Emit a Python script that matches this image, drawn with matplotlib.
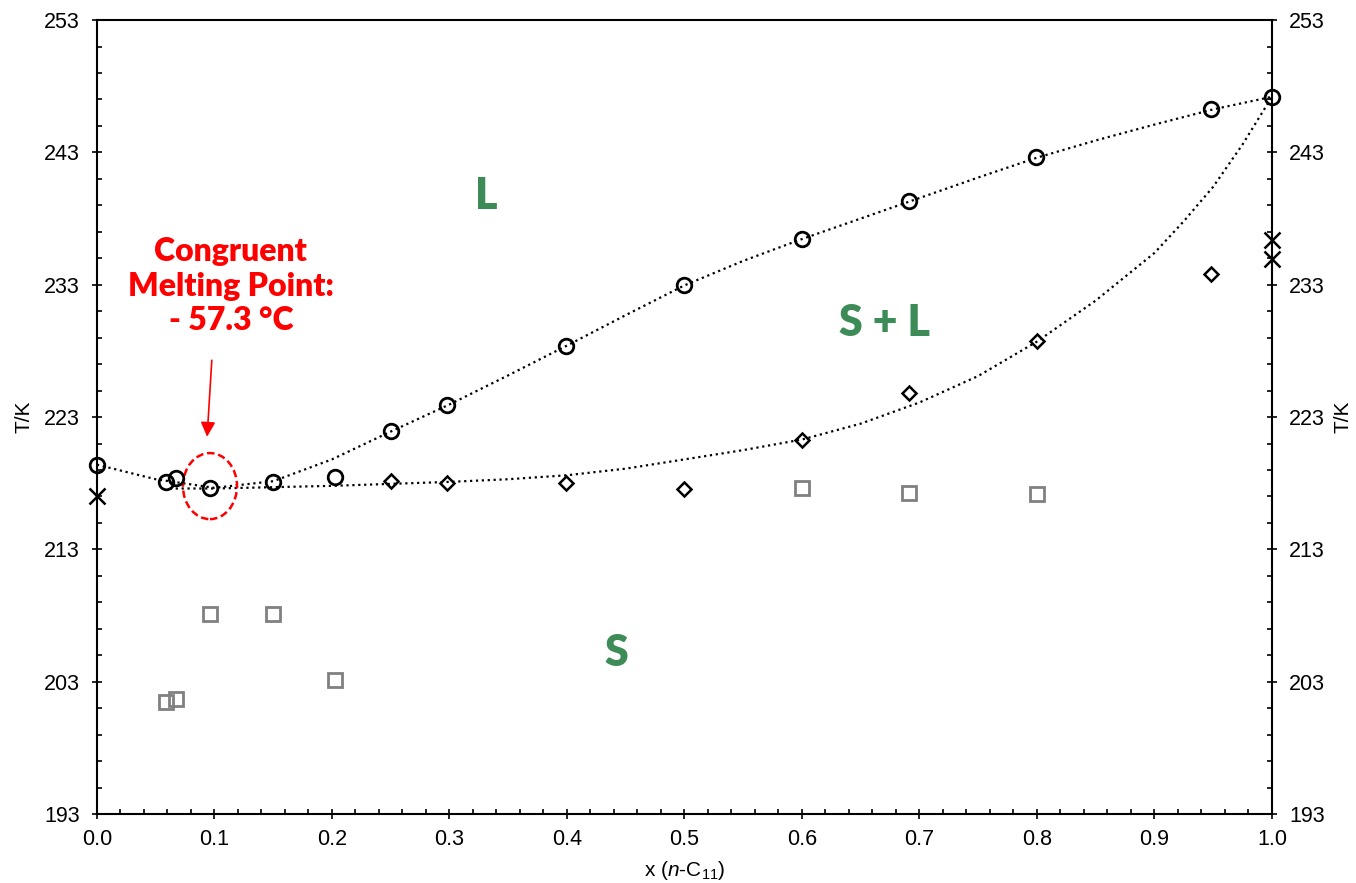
import numpy as np
import matplotlib
matplotlib.use('Agg')
import matplotlib.pyplot as plt
from matplotlib.patches import Ellipse
from matplotlib.ticker import MultipleLocator

plt.rcParams['font.family'] = ['Liberation Sans', 'DejaVu Sans']
plt.rcParams['mathtext.fontset'] = 'custom'
plt.rcParams['mathtext.rm'] = 'Liberation Sans'
plt.rcParams['mathtext.it'] = 'Liberation Sans:italic'

# liquidus points (circles)
x_liq = [0.0, 0.0587, 0.067, 0.096, 0.15, 0.2026, 0.25, 0.298, 0.399, 0.5, 0.6, 0.691, 0.799, 0.948, 1.0]
T_liq = [219.37, 218.09, 218.39, 217.63, 218.09, 218.47, 221.94, 223.91, 228.36, 232.97, 236.45, 239.32, 242.65, 246.27, 247.18]
# solidus points (diamonds)
x_sol = [0.25, 0.298, 0.399, 0.5, 0.6, 0.691, 0.8, 0.948]
T_sol = [218.16, 218.01, 218.01, 217.56, 221.26, 224.81, 228.74, 233.81]
# solid-solid transitions (grey squares)
x_ss = [0.0587, 0.067, 0.096, 0.15, 0.2026, 0.6, 0.691, 0.8]
T_ss = [201.46, 201.69, 208.11, 208.11, 203.12, 217.63, 217.26, 217.18]
# pure component values (crosses)
x_pure = [0.0, 1.0, 1.0]
T_pure = [217.03, 236.38, 234.94]

# fitted curves
x_liq_fit = [0.0, 0.05, 0.1, 0.15, 0.2, 0.25, 0.3, 0.35, 0.4, 0.45, 0.5, 0.55, 0.6, 0.65, 0.7,
             0.75, 0.8, 0.85, 0.9, 0.95, 1.0]
T_liq_fit = [219.4, 218.3, 217.65, 218.15, 219.8, 221.9, 223.95, 226.15, 228.4, 230.7, 232.95, 234.8,
             236.45, 238.0, 239.55, 241.1, 242.6, 243.9, 245.1, 246.25, 247.2]
x_sol_fit = [0.062, 0.1, 0.15, 0.2, 0.25, 0.3, 0.35, 0.4, 0.45, 0.5, 0.55, 0.6, 0.65, 0.7, 0.75,
             0.8, 0.85, 0.9, 0.925, 0.95, 0.975, 1.0]
T_sol_fit = [217.6, 217.6, 217.7, 217.8, 217.95, 218.1, 218.3, 218.6, 219.1, 219.8, 220.5, 221.3,
             222.5, 224.1, 226.1, 228.7, 231.8, 235.4, 237.8, 240.4, 243.6, 247.2]

y_major = [193, 203, 213, 223, 233, 243, 253]

green = '#3D8B57'

fig = plt.figure(figsize=(13.56, 8.83), dpi=100)
ax = fig.add_axes([0.0715, 0.0781, 0.8665, 0.8992])

ax.plot(x_liq_fit, T_liq_fit, ls=':', color='black', lw=1.6, zorder=2)
ax.plot(x_sol_fit, T_sol_fit, ls=':', color='black', lw=1.6, zorder=2)

ax.plot(x_liq, T_liq, 'o', ms=10.5, mfc='none', mec='black', mew=2, zorder=4, clip_on=False)
ax.plot(x_sol, T_sol, 'D', ms=7, mfc='none', mec='black', mew=1.8, zorder=4, clip_on=False)
ax.plot(x_ss, T_ss, 's', ms=10, mfc='none', mec='#808080', mew=2, zorder=4, clip_on=False)
ax.plot(x_pure, T_pure, 'x', ms=11, mec='black', mew=1.8, zorder=4, clip_on=False)

ax.set_xlim(0, 1)
ax.set_ylim(193, 253)
ax.xaxis.set_major_locator(MultipleLocator(0.1))
ax.xaxis.set_minor_locator(MultipleLocator(0.02))
ax.set_yticks(y_major)
ax.set_yticks(np.arange(193, 254, 2), minor=True)
ax.xaxis.set_major_formatter(matplotlib.ticker.FormatStrFormatter('%.1f'))
ax.tick_params(which='major', direction='inout', length=7, width=1.2, labelsize=15.5,
               left=True, right=True, labelleft=True, labelright=True, top=False)
ax.tick_params(axis='y', which='major', pad=9)
ax.tick_params(axis='x', which='major', pad=7)
ax.tick_params(which='minor', direction='in', length=3.5, width=1.2, left=True, right=True, top=False)
for s in ax.spines.values():
    s.set_linewidth(1.5)

ax.set_xlabel(r'x ($\mathit{n}$-C$_{11}$)', fontsize=15, labelpad=7)
ax.set_ylabel('T/K', fontsize=15, labelpad=7)
ax2 = ax.secondary_yaxis('right')
ax2.set_yticks(y_major)
ax2.tick_params(length=0, labelright=False)
ax2.spines['right'].set_visible(False)
ax2.set_ylabel('T/K', fontsize=15, labelpad=44)

ax.text(0.331, 239.7, 'L', color=green, fontsize=31, fontweight='heavy', family='Lato',
        ha='center', va='center')
ax.text(0.67, 230.1, 'S + L', color=green, fontsize=31, fontweight='heavy', family='Lato',
        ha='center', va='center')
ax.text(0.4417, 205.2, 'S', color=green, fontsize=31, fontweight='heavy', family='Lato',
        ha='center', va='center')

ax.text(0.114, 232.9, 'Congruent\nMelting Point:\n- 57.3 \u00b0C', color='red', fontsize=23,
        fontweight='heavy', family='Lato', ha='center', va='center', linespacing=1.22)
ax.annotate('', xy=(0.0936, 221.3), xytext=(0.0979, 227.5),
            arrowprops=dict(arrowstyle='-|>', color='red', lw=1.2, mutation_scale=22))
ax.add_patch(Ellipse((0.0962, 217.78), 0.046, 4.99, fill=False, ec='red', lw=1.8, ls=(0, (3, 1.5)),
                     zorder=3))

fig.savefig('out.png', dpi=100)
